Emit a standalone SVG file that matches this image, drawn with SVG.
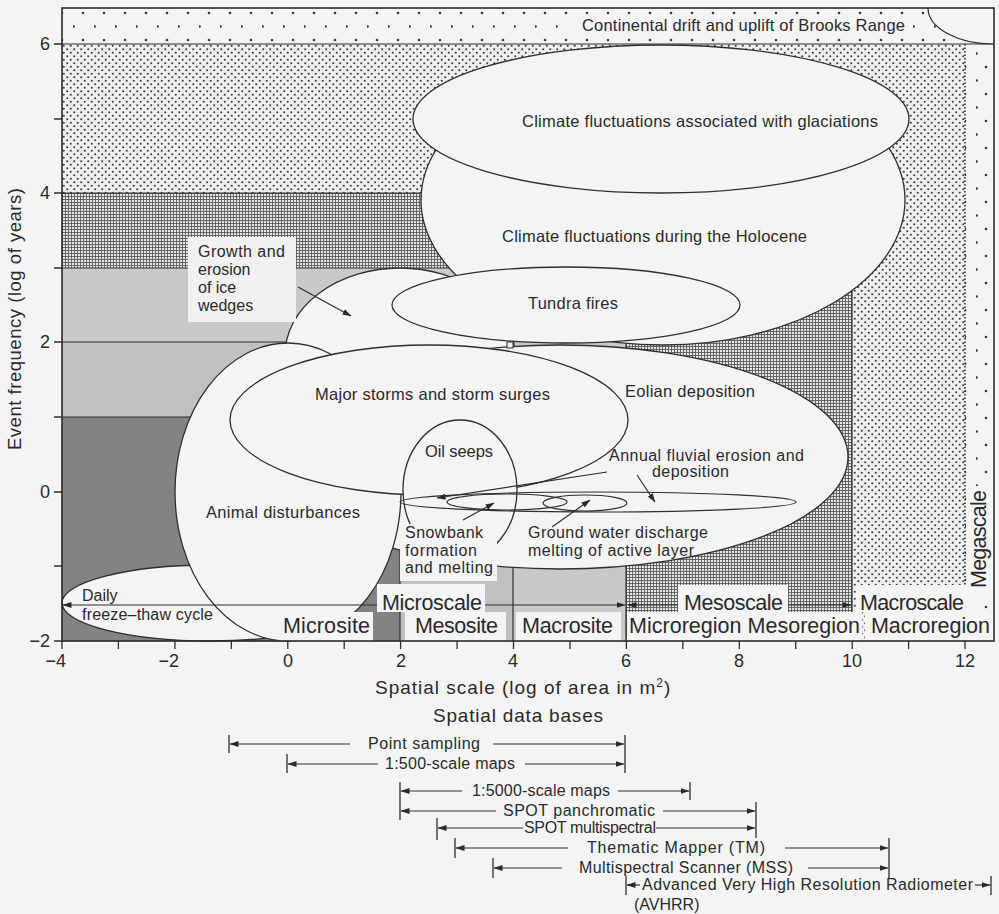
<svg xmlns="http://www.w3.org/2000/svg" width="999" height="914" viewBox="0 0 999 914">
<defs>
<style>
text{font-family:"Liberation Sans",Arial,Helvetica,sans-serif;fill:#2a2a2a}
.lbl{font-size:16.5px}
.sm{font-size:16px}
.big{font-size:21.5px}
.num{font-size:18px}
.ell{fill:#f4f4f4;stroke:#2f2f2f;stroke-width:1.3}
.thin{fill:none;stroke:#2f2f2f;stroke-width:1.2}
.box{fill:#f4f4f4}
.ln{stroke:#2f2f2f;stroke-width:1.2;fill:none}
.tk{stroke:#2f2f2f;stroke-width:1.3;fill:none}
</style>
<pattern id="sparse" x="52" y="8" width="21" height="27" patternUnits="userSpaceOnUse">
<rect width="21" height="27" fill="#f4f4f4"/>
<circle cx="10" cy="5" r="1.3" fill="#3a3a3a"/>
<circle cx="0.6" cy="18.5" r="1.3" fill="#3a3a3a"/>
</pattern>
<pattern id="dense" x="62" y="44" width="7" height="7" patternUnits="userSpaceOnUse">
<rect width="7" height="7" fill="#efefef"/>
<circle cx="1.75" cy="1.75" r="1.05" fill="#3d3d3d"/>
<circle cx="5.25" cy="5.25" r="1.05" fill="#3d3d3d"/>
</pattern>
<pattern id="hatch" x="62" y="193" width="3" height="3" patternUnits="userSpaceOnUse">
<rect width="3" height="3" fill="#e6e6e6"/>
<path d="M0,0.5H3M0.5,0V3" stroke="#5a5a5a" stroke-width="0.9"/>
</pattern>
<marker id="ah" markerWidth="9" markerHeight="7" refX="8.5" refY="3.5" orient="auto" markerUnits="userSpaceOnUse">
<path d="M0,0.5 L9,3.5 L0,6.5 Z" fill="#2a2a2a"/>
</marker>
</defs>
<rect width="999" height="914" fill="#f4f4f4"/>

<g id="bands">
<rect x="62" y="8" width="932" height="633" fill="url(#sparse)"/>
<rect x="62" y="44" width="903" height="597" fill="url(#dense)"/>
<rect x="62" y="193" width="790" height="448" fill="url(#hatch)"/>
<rect x="62" y="268" width="564" height="373" fill="#c9c9c9"/>
<rect x="62" y="342" width="451" height="299" fill="#c0c0c0"/>
<rect x="62" y="417" width="338" height="224" fill="#838383"/>
<path class="ln" d="M62,44H994M62,193H852M62,268H626M62,342H513M62,417H400"/>
<path class="ln" d="M852,193V641M626,268V641M513,342V641M400,417V641"/>
<path d="M965,44V612" stroke="#2f2f2f" stroke-width="1.6" stroke-dasharray="1.5,2" fill="none"/>
<path d="M928,8 A66,36 0 0 0 994,44 V8 Z" fill="#f4f4f4"/>
<path class="ln" d="M928,8 A66,36 0 0 0 994,44"/>
<rect x="576" y="17" width="336" height="20" fill="#f4f4f4"/>
<text class="lbl" x="582" y="31" textLength="323">Continental drift and uplift of Brooks Range</text>
</g>

<g id="ice-wedges">
<ellipse class="ell" cx="400" cy="355" rx="115" ry="87"/>
</g>
<g id="holocene">
<ellipse class="ell" cx="663" cy="200" rx="242" ry="145"/>
<text class="lbl" x="502" y="242" textLength="305">Climate fluctuations during the Holocene</text>
</g>
<g id="glaciations">
<ellipse class="ell" cx="661" cy="119" rx="248" ry="74"/>
<text class="lbl" x="522" y="127" textLength="356">Climate fluctuations associated with glaciations</text>
</g>
<g id="eolian">
<ellipse class="ell" cx="560" cy="457" rx="288" ry="112"/>
<text class="lbl" x="625" y="397" textLength="130">Eolian deposition</text>
</g>
<g id="tundra">
<ellipse class="ell" cx="566" cy="305" rx="174" ry="38"/>
<text class="lbl" x="528" y="309" textLength="90">Tundra fires</text>
</g>
<g id="junction">
<rect x="507" y="342" width="6" height="6" fill="#f4f4f4" stroke="#2f2f2f" stroke-width="1"/>
</g>
<g id="daily">
<ellipse class="ell" cx="210" cy="603" rx="148" ry="38"/>
<text class="sm" x="82" y="601">Daily</text>
<text class="sm" x="82" y="620" textLength="131">freeze–thaw cycle</text>
</g>
<g id="animal">
<ellipse class="ell" cx="288" cy="492" rx="113" ry="149"/>
<text class="lbl" x="206" y="518" textLength="154">Animal disturbances</text>
</g>
<g id="storms">
<ellipse class="ell" cx="429" cy="420" rx="199" ry="75"/>
<text class="lbl" x="315" y="400" textLength="235">Major storms and storm surges</text>
</g>
<g id="oil">
<ellipse class="ell" cx="460" cy="490" rx="57" ry="70"/>
<text class="lbl" x="425" y="457" textLength="68">Oil seeps</text>
</g>
<g id="fluvial">
<ellipse class="thin" cx="598" cy="502" rx="198" ry="10"/>
<text class="sm" x="609" y="461" textLength="195">Annual fluvial erosion and</text>
<text class="sm" x="652" y="477" textLength="77">deposition</text>
</g>
<g id="snowbank">
<ellipse class="thin" cx="507" cy="502" rx="60" ry="8"/>
<rect class="box" x="400" y="524" width="97" height="57"/>
<text class="sm" x="405" y="538" textLength="78">Snowbank</text>
<text class="sm" x="405" y="556" textLength="72">formation</text>
<text class="sm" x="405" y="573" textLength="88">and melting</text>
</g>
<g id="groundwater">
<ellipse class="thin" cx="585" cy="503" rx="42" ry="8"/>
<text class="sm" x="528" y="538" textLength="180">Ground water discharge</text>
<text class="sm" x="528" y="556" textLength="166">melting of active layer</text>
</g>
<g id="ice-wedge-label">
<rect x="188" y="237" width="108" height="85" fill="#f1f1f1"/>
<text class="sm" x="198" y="257" textLength="87">Growth and</text>
<text class="sm" x="198" y="275">erosion</text>
<text class="sm" x="198" y="293">of ice</text>
<text class="sm" x="198" y="311">wedges</text>
</g>

<g id="scale-labels">
<rect class="box" x="377" y="584" width="108" height="28"/>
<text class="big" x="382" y="610" textLength="100">Microscale</text>
<rect class="box" x="678" y="585" width="110" height="27"/>
<text class="big" x="684" y="610" textLength="99">Mesoscale</text>
<rect class="box" x="856" y="585" width="110" height="27"/>
<text class="big" x="860" y="610" textLength="104">Macroscale</text>
<rect class="box" x="279" y="612" width="94" height="29"/>
<text class="big" x="283" y="633" textLength="87">Microsite</text>
<rect class="box" x="405" y="612" width="101" height="29"/>
<text class="big" x="415" y="633" textLength="83">Mesosite</text>
<rect class="box" x="516" y="612" width="105" height="29"/>
<text class="big" x="522" y="633" textLength="91">Macrosite</text>
<rect class="box" x="627" y="612" width="235" height="29"/>
<text class="big" x="629" y="633" textLength="231">Microregion Mesoregion</text>
<rect class="box" x="865" y="612" width="128" height="29"/>
<text class="big" x="871" y="633" textLength="119">Macroregion</text>
<rect class="box" x="968" y="486" width="25" height="110"/>
<text class="big" transform="translate(986,588) rotate(-90)" textLength="98">Megascale</text>
</g>

<g id="connectors">
<path class="ln" d="M298,287 L351,316" marker-end="url(#ah)"/>
<path class="ln" d="M607,472 L437,498" marker-end="url(#ah)"/>
<path class="ln" d="M637,475 L655,502" marker-end="url(#ah)"/>
<path class="ln" d="M463,520 L494,503" marker-end="url(#ah)"/>
<path class="ln" d="M552,527 L590,500" marker-end="url(#ah)"/>
<path class="ln" d="M377,605 L63,605" marker-end="url(#ah)"/>
<path class="ln" d="M485,605 L625,605" marker-end="url(#ah)"/>
<path class="ln" d="M678,605 L628,605" marker-end="url(#ah)"/>
<path class="ln" d="M788,605 L851,605" marker-end="url(#ah)"/>
</g>

<g id="axes">
<rect x="62" y="8" width="932" height="633" fill="none" stroke="#2a2a2a" stroke-width="1.6"/>
<path class="tk" d="M54,44H62M54,119H62M54,193H62M54,268H62M54,342H62M54,417H62M54,492H62M54,566H62M54,641H62"/>
<path class="tk" d="M62,641V649M118.4,641V649M174.9,641V649M231.3,641V649M287.8,641V649M344.2,641V649M400.6,641V649M457.1,641V649M513.5,641V649M570,641V649M626.4,641V649M682.8,641V649M739.3,641V649M795.7,641V649M852.2,641V649M908.6,641V649M965,641V649"/>
<text class="num" x="50" y="50" text-anchor="end">6</text>
<text class="num" x="50" y="199" text-anchor="end">4</text>
<text class="num" x="50" y="348" text-anchor="end">2</text>
<text class="num" x="50" y="498" text-anchor="end">0</text>
<text class="num" x="50" y="647" text-anchor="end">−2</text>
<text class="num" x="66" y="667" text-anchor="end">−4</text>
<text class="num" x="179" y="667" text-anchor="end">−2</text>
<text class="num" x="288" y="667" text-anchor="middle">0</text>
<text class="num" x="401" y="667" text-anchor="middle">2</text>
<text class="num" x="513" y="667" text-anchor="middle">4</text>
<text class="num" x="626" y="667" text-anchor="middle">6</text>
<text class="num" x="739" y="667" text-anchor="middle">8</text>
<text class="num" x="852" y="667" text-anchor="middle">10</text>
<text class="num" x="965" y="667" text-anchor="middle">12</text>
<text style="font-size:18.5px" transform="translate(21,450) rotate(-90)" textLength="262">Event frequency (log of years)</text>
<text style="font-size:19px;letter-spacing:1px" x="375" y="694">Spatial scale (log of area in m<tspan dy="-7" style="font-size:12px">2</tspan><tspan dy="7">)</tspan></text>
<text style="font-size:19px" x="433" y="722" textLength="170">Spatial data bases</text>
</g>

<g id="databases">
<path class="tk" d="M229,735V753M625,735V773M287,754V773M400,782V820M690,782V800M756,802V838M437,818V840M455,838V858M889,838V878M493,858V878M626,876V895M991,876V895"/>
<path class="ln" d="M350,744 L230,744" marker-end="url(#ah)"/>
<path class="ln" d="M493,744 L624,744" marker-end="url(#ah)"/>
<text class="sm" x="368" y="749" textLength="112">Point sampling</text>
<path class="ln" d="M378,764 L288,764" marker-end="url(#ah)"/>
<path class="ln" d="M525,764 L624,764" marker-end="url(#ah)"/>
<text class="sm" x="385" y="769" textLength="130">1:500-scale maps</text>
<path class="ln" d="M462,791 L401,791" marker-end="url(#ah)"/>
<path class="ln" d="M618,791 L689,791" marker-end="url(#ah)"/>
<text class="sm" x="472" y="796" textLength="138">1:5000-scale maps</text>
<path class="ln" d="M496,811 L401,811" marker-end="url(#ah)"/>
<path class="ln" d="M663,811 L755,811" marker-end="url(#ah)"/>
<text class="sm" x="503" y="816" textLength="152">SPOT panchromatic</text>
<path class="ln" d="M523,828 L438,828" marker-end="url(#ah)"/>
<path class="ln" d="M656,828 L755,828" marker-end="url(#ah)"/>
<text class="sm" x="524" y="833" textLength="132">SPOT multispectral</text>
<path class="ln" d="M568,848 L456,848" marker-end="url(#ah)"/>
<path class="ln" d="M785,848 L888,848" marker-end="url(#ah)"/>
<text class="sm" x="587" y="853" textLength="178">Thematic Mapper (TM)</text>
<path class="ln" d="M562,868 L494,868" marker-end="url(#ah)"/>
<path class="ln" d="M808,868 L888,868" marker-end="url(#ah)"/>
<text class="sm" x="579" y="873" textLength="214">Multispectral Scanner (MSS)</text>
<path class="ln" d="M640,885 L627,885" marker-end="url(#ah)"/>
<path class="ln" d="M975,885 L990,885" marker-end="url(#ah)"/>
<text class="sm" x="642" y="890" textLength="331">Advanced Very High Resolution Radiometer</text>
<text class="sm" x="634" y="910">(AVHRR)</text>
</g>
</svg>
